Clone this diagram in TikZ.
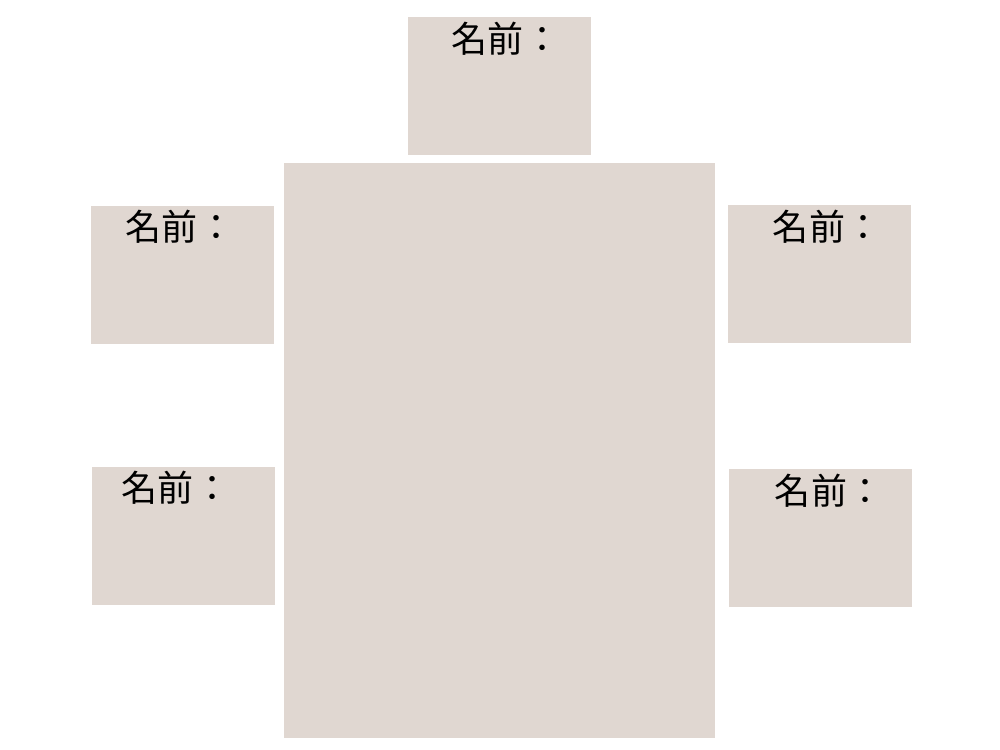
\documentclass[tikz,border=0pt]{standalone}
\usepackage{fontspec}
\newfontfamily\jpfont{Noto Sans CJK JP}
\definecolor{seatgray}{HTML}{E0D7D1}
\tikzset{
  seatbox/.style={fill=seatgray, draw=none, minimum width=3.66cm, minimum height=2.76cm, inner sep=0pt},
  namelabel/.style={font=\jpfont\fontsize{20.5}{24}\selectfont, inner sep=0pt}
}
\begin{document}
\begin{tikzpicture}[x=0.02cm, y=-0.02cm]
        \useasboundingbox[fill=white] (0, 0) rectangle (1000, 750);
        
        % === Tavolo ===
        \node[fill=seatgray, minimum width=8.62cm, minimum height=11.5cm, inner sep=0pt] (table) at (499.5, 450.5) {};
        
        % === Posti ===
        \node[seatbox] (top) at (499.5, 86) {};
        \node[seatbox] (left1) at (182.5, 275) {};
        \node[seatbox] (right1) at (819.5, 274) {};
        \node[seatbox] (left2) at (183.5, 536) {};
        \node[seatbox] (right2) at (820.5, 538) {};
        
        % Nomi
        \node[namelabel] (ntop) at (506, 39) {名前：};
        \node[namelabel] (nleft1) at (180, 227) {名前：};
        \node[namelabel] (nright1) at (827, 227) {名前：};
        \node[namelabel] (nleft2) at (176, 488) {名前：};
        \node[namelabel] (nright2) at (829, 491) {名前：};
        
\end{tikzpicture}
\end{document}
